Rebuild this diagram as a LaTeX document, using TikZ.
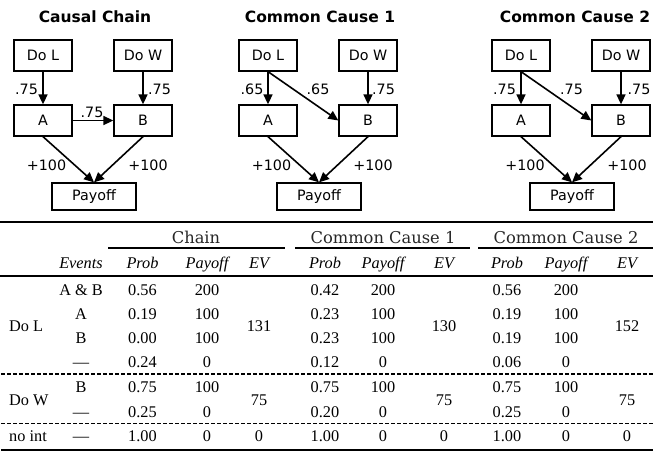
\documentclass[tikz,border=0pt]{standalone}
\usepackage{fontspec}
\setmainfont{Liberation Serif}
\newfontfamily\diagfont{DejaVu Sans}
\newfontfamily\headfont{DejaVu Serif}
\usetikzlibrary{arrows.meta}

\begin{document}
\begin{tikzpicture}[x=1pt,y=-1pt,
  box/.style={draw, line width=1.3pt, minimum width=58pt, minimum height=31pt,
    inner sep=0pt, font=\diagfont\fontsize{14.3}{16}\selectfont},
  paybox/.style={box, minimum width=84pt, minimum height=27pt},
  arr/.style={-{Triangle[length=10pt,width=9pt]}, line width=1.6pt},
  lbl/.style={inner sep=0pt, font=\diagfont\fontsize{14.3}{16}\selectfont},
  ttl/.style={inner sep=0pt, font=\diagfont\bfseries\fontsize{15.5}{18}\selectfont},
  grp/.style={anchor=base, inner sep=0pt, text=black!85, font=\headfont\fontsize{16.3}{18}\selectfont},
  cell/.style={anchor=base, inner sep=0pt, font=\fontsize{16.3}{18}\selectfont},
  hcell/.style={cell, font=\itshape\fontsize{16.3}{18}\selectfont},
  toprule/.style={line width=2.2pt},
  cmid/.style={line width=1.6pt},
  dashrule/.style={line width=1.1pt, dash pattern=on 4pt off 2pt}]
\useasboundingbox (0,0) rectangle (653,451);
\clip (0,0) rectangle (653,451);

% ---------- causal chain ----------
\begin{scope}
  \node[ttl] (c-title) at (95,16.5) {Causal Chain};
  \node[box] (c-dol) at (43,55.5) {Do L};
  \node[box] (c-dow) at (143,55.5) {Do W};
  \node[box] (c-a) at (43,120.5) {A};
  \node[box] (c-b) at (143,120.5) {B};
  \node[paybox] (c-pay) at (94,196.5) {Payoff};
  \draw[arr] (c-dol) -- (c-a);
  \draw[arr] (c-dow) -- (c-b);
  \draw[arr] (c-a) -- (c-b);
  \draw[arr] (c-a.south) -- (c-pay.north);
  \draw[arr] (c-b.south) -- (c-pay.north);
  \node[lbl] (c-l1) at (26.5,89) {.75};
  \node[lbl] (c-l2) at (159.5,89) {.75};
  \node[lbl] (c-l3) at (92,112.5) {.75};
  \node[lbl] (c-l4) at (46.5,165) {+100};
  \node[lbl] (c-l5) at (148,165) {+100};
\end{scope}

% ---------- common cause 1 ----------
\begin{scope}[xshift=225pt]
  \node[ttl] (m-title) at (95,16.5) {Common Cause 1};
  \node[box] (m-dol) at (43,55.5) {Do L};
  \node[box] (m-dow) at (143,55.5) {Do W};
  \node[box] (m-a) at (43,120.5) {A};
  \node[box] (m-b) at (143,120.5) {B};
  \node[paybox] (m-pay) at (94,196.5) {Payoff};
  \draw[arr] (m-dol) -- (m-a);
  \draw[arr] (m-dow) -- (m-b);
  \draw[arr] (m-dol.south) -- (m-b.west);
  \draw[arr] (m-a.south) -- (m-pay.north);
  \draw[arr] (m-b.south) -- (m-pay.north);
  \node[lbl] (m-l1) at (27,89) {.65};
  \node[lbl] (m-l2) at (93,89) {.65};
  \node[lbl] (m-l3) at (158.5,89) {.75};
  \node[lbl] (m-l4) at (46.5,165) {+100};
  \node[lbl] (m-l5) at (148,165) {+100};
\end{scope}

% ---------- common cause 2 ----------
\begin{scope}[xshift=478pt]
  \node[ttl] (n-title) at (97,16.5) {Common Cause 2};
  \node[box] (n-dol) at (43,55.5) {Do L};
  \node[box] (n-dow) at (143,55.5) {Do W};
  \node[box] (n-a) at (43,120.5) {A};
  \node[box] (n-b) at (143,120.5) {B};
  \node[paybox] (n-pay) at (94,196.5) {Payoff};
  \draw[arr] (n-dol) -- (n-a);
  \draw[arr] (n-dow) -- (n-b);
  \draw[arr] (n-dol.south) -- (n-b.west);
  \draw[arr] (n-a.south) -- (n-pay.north);
  \draw[arr] (n-b.south) -- (n-pay.north);
  \node[lbl] (n-l1) at (26.5,89) {.75};
  \node[lbl] (n-l2) at (93.5,89) {.75};
  \node[lbl] (n-l3) at (161,89) {.75};
  \node[lbl] (n-l4) at (47,165) {+100};
  \node[lbl] (n-l5) at (149,165) {+100};
\end{scope}

% ---------- table rules ----------
\draw[toprule] (0,222) -- (653,222);
\draw[cmid] (108,248) -- (285,248);
\draw[cmid] (295,248) -- (470,248);
\draw[cmid] (478,248) -- (653,248);
\draw[toprule] (0,276) -- (653,276);
\draw[dashrule] (1,374) -- (653,374);
\draw[dashrule] (1,423.3) -- (653,423.3);
\draw[toprule] (1,450) -- (653,450);

% ---------- table header ----------
\node[grp] (g-chain) at (196,243.5) {Chain};
\node[grp] (g-cc1) at (383,243.5) {Common Cause 1};
\node[grp] (g-cc2) at (566,243.5) {Common Cause 2};
\node[hcell] (h-ev) at (81,268.5) {Events};
\foreach \pr/\py/\ex [count=\g] in {142.5/207/259, 325/383/444, 507/566/627} {
  \node[hcell] (h-prob\g) at (\pr,268.5) {Prob};
  \node[hcell] (h-pay\g) at (\py,268.5) {Payoff};
  \node[hcell] (h-exp\g) at (\ex,268.5) {EV};
}

% ---------- table body ----------
\node[cell, anchor=base west] (rl-dol) at (9,331) {Do L};
\node[cell, anchor=base west] (rl-dow) at (9,405) {Do W};
\node[cell, anchor=base west] (rl-noint) at (9,441.7) {no int};
\foreach \yy/\evt/\pa/\qa/\pb/\qb/\pc/\qc [count=\r] in {
    295/{A \& B}/0.56/200/0.42/200/0.56/200,
    319.3/A/0.19/100/0.23/100/0.19/100,
    343.8/B/0.00/100/0.23/100/0.19/100,
    367.3/—/0.24/0/0.12/0/0.06/0,
    392.7/B/0.75/100/0.75/100/0.75/100,
    417.3/—/0.25/0/0.20/0/0.25/0,
    441.7/—/1.00/0/1.00/0/1.00/0} {
  \node[cell] (e\r) at (81,\yy) {\evt};
  \node[cell] (pa\r) at (142.5,\yy) {\pa};
  \node[cell] (qa\r) at (207,\yy) {\qa};
  \node[cell] (pb\r) at (325,\yy) {\pb};
  \node[cell] (qb\r) at (383,\yy) {\qb};
  \node[cell] (pc\r) at (507,\yy) {\pc};
  \node[cell] (qc\r) at (566,\yy) {\qc};
}
\node[cell] (va1) at (259,331) {131};
\node[cell] (vb1) at (444,331) {130};
\node[cell] (vc1) at (627,331) {152};
\node[cell] (va2) at (259,405) {75};
\node[cell] (vb2) at (444,405) {75};
\node[cell] (vc2) at (627,405) {75};
\node[cell] (va3) at (259,441.7) {0};
\node[cell] (vb3) at (444,441.7) {0};
\node[cell] (vc3) at (627,441.7) {0};
\end{tikzpicture}
\end{document}
